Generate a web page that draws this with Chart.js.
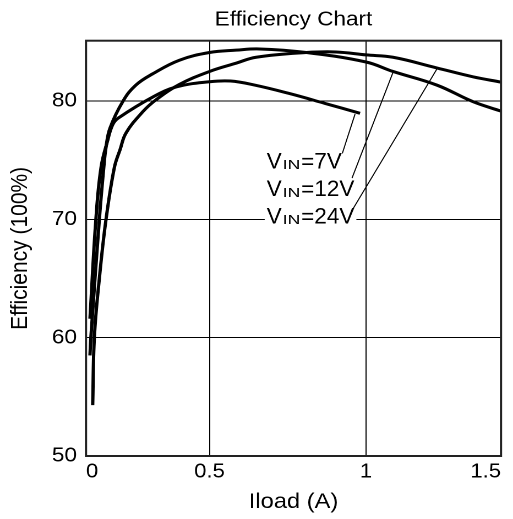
<!DOCTYPE html>
<html>
<head>
<meta charset="utf-8">
<title>Efficiency Chart</title>
<script src="https://cdn.jsdelivr.net/npm/chart.js@4.4.1/dist/chart.umd.min.js"></script>
<style>
  html, body { margin: 0; padding: 0; background: #fff; overflow: hidden; }
  /* the source picture is stretched sideways, so the chart is drawn narrower and widened */
  #wrap { width: 466px; height: 519px; transform: scaleX(1.10086); transform-origin: 0 0; }
</style>
</head>
<body>
<div id="wrap"><canvas id="graphic"></canvas></div>
<script>
  // load current (A) and efficiency (%)
  const iload7  = [0.016, 0.040, 0.061, 0.088, 0.108, 0.130, 0.272, 0.367, 0.500, 0.567, 0.644, 0.753, 0.869, 0.981];
  const eff7    = [61.6,  70.0,  74.4,  76.7,  78.0,  78.55, 80.36, 81.2,  81.63, 81.69, 81.35, 80.65, 79.8,  78.96];

  const iload12 = [0.016, 0.020, 0.054, 0.072, 0.081, 0.097, 0.150, 0.202, 0.270, 0.378, 0.500, 0.585, 0.660, 0.809, 1.000, 1.100, 1.262, 1.396, 1.500];
  const eff12   = [58.5,  60.1,  70.0,  74.4,  76.1,  77.7,  80.0,  81.35, 82.3,  83.45, 84.1,  84.3,  84.4,  84.1,  83.3,  82.5,  81.35, 79.95, 79.15];

  const iload24 = [0.027, 0.034, 0.054, 0.081, 0.115, 0.138, 0.162, 0.230, 0.283, 0.378, 0.500, 0.585, 0.649, 0.809, 0.904, 1.000, 1.100, 1.262, 1.396, 1.500];
  const eff24   = [54.3,  60.1,  65.0,  70.0,  74.4,  75.9,  77.3,  79.1,  80.1,  81.4,  82.5,  83.2,  83.7,  84.1,  84.15, 83.9,  83.7,  82.8,  82.05, 81.6];

  const vinLabels = ["7V", "12V", "24V"];
  const xTicks = [0, 0.5, 1, 1.5];
  const xTickLabels = ["0", "0.5", "1", "1.5"];
  const yTicks = [50, 60, 70, 80];
  const yTickLabels = ["50", "60", "70", "80"];

  const SX = 513 / 466;
  const FONT = '"Liberation Sans", Arial, Helvetica, sans-serif';

  // the printed x axis is not evenly spaced: where each tick sits along the axis (0..1)
  const xKnots = [0, 0.5, 1, 1.5];
  const xFrac  = [0, 0.29759, 0.6747, 1];

  function toDecimal(v) {
    let i = 0;
    while (i < xKnots.length - 2 && v > xKnots[i + 1]) i++;
    const t = (v - xKnots[i]) / (xKnots[i + 1] - xKnots[i]);
    return xFrac[i] + t * (xFrac[i + 1] - xFrac[i]);
  }
  function fromDecimal(d) {
    let i = 0;
    while (i < xFrac.length - 2 && d > xFrac[i + 1]) i++;
    const t = (d - xFrac[i]) / (xFrac[i + 1] - xFrac[i]);
    return xKnots[i] + t * (xKnots[i + 1] - xKnots[i]);
  }

  class PiecewiseScale extends Chart.LinearScale {
    getPixelForValue(value) {
      if (value === null || value === undefined || isNaN(value)) return NaN;
      return this.getPixelForDecimal(toDecimal(value));
    }
    getValueForPixel(pixel) {
      return fromDecimal(this.getDecimalForPixel(pixel));
    }
  }
  PiecewiseScale.id = "piecewise";
  PiecewiseScale.defaults = Chart.LinearScale.defaults;
  Chart.register(PiecewiseScale);

  // callouts, in data units
  const callouts = {
    textX: 0.6827,
    baselines: [74.31, 71.97, 69.66],
    from: [[0.9243, 75.58], [0.9553, 73.49], [0.954, 70.7]],
    to:   [[0.965, 78.9],  [1.101, 82.48], [1.264, 82.76]]
  };

  const framePlugin = {
    id: "frameAndCallouts",
    afterDatasetsDraw(chart) {
      const { ctx, chartArea: a } = chart;
      const x = chart.scales.x, y = chart.scales.y;
      ctx.save();
      ctx.strokeStyle = "#222";
      ctx.lineWidth = 2;
      ctx.strokeRect(a.left, a.top, a.right - a.left, a.bottom - a.top);

      vinLabels.forEach((lab, i) => {
        const runs = [
          { t: "V", size: 22.5, sx: 1, dy: 0 },
          { t: "IN", size: 12.5, sx: 1.4, dy: 0.8 },
          { t: "=" + lab, size: 22.5, sx: 1, dy: 0 }
        ];
        const gap = 1 / SX;
        const px = x.getPixelForValue(callouts.textX);
        const py = y.getPixelForValue(callouts.baselines[i]);
        const widths = runs.map(r => {
          ctx.font = r.size + "px " + FONT;
          return ctx.measureText(r.t).width * r.sx / SX;
        });
        const total = widths.reduce((s, w) => s + w, 0) + 2 * gap;
        ctx.fillStyle = "#fff";
        ctx.fillRect(px - 2 / SX, py - 19, total + 4 / SX, 24);
        ctx.fillStyle = "#000";
        ctx.textBaseline = "alphabetic";
        let cx = px;
        runs.forEach((r, k) => {
          ctx.save();
          ctx.translate(cx, py + r.dy);
          ctx.scale(r.sx / SX, 1);
          ctx.font = r.size + "px " + FONT;
          ctx.fillText(r.t, 0, 0);
          ctx.restore();
          cx += widths[k] + (k < 2 ? gap : 0);
        });
      });

      ctx.strokeStyle = "#000";
      ctx.lineWidth = 1;
      callouts.from.forEach((f, i) => {
        const t = callouts.to[i];
        ctx.beginPath();
        ctx.moveTo(x.getPixelForValue(f[0]), y.getPixelForValue(f[1]));
        ctx.lineTo(x.getPixelForValue(t[0]), y.getPixelForValue(t[1]));
        ctx.stroke();
      });
      ctx.restore();
    }
  };

  function points(xs, ys) {
    return xs.map((v, i) => ({ x: v, y: ys[i] }));
  }

  function curve(label, xs, ys) {
    return {
      label: label,
      data: points(xs, ys),
      borderColor: "#000",
      borderWidth: 3,
      pointRadius: 0,
      fill: false,
      tension: 0.4
    };
  }

  Chart.defaults.color = "#000";
  Chart.defaults.font.family = FONT;

  var ctx = document.getElementById("graphic").getContext("2d");
  var chart = new Chart(ctx, {
    type: "line",
    data: {
      datasets: [
        curve("VIN=7V", iload7, eff7),
        curve("VIN=12V", iload12, eff12),
        curve("VIN=24V", iload24, eff24)
      ]
    },
    options: {
      responsive: true,
      maintainAspectRatio: false,
      devicePixelRatio: 2,
      animation: false,
      layout: { padding: { left: 0, right: 466 - 501 / SX, top: 0, bottom: 0 } },
      plugins: {
        legend: { display: false },
        tooltip: { enabled: false },
        title: {
          display: true,
          text: "Efficiency Chart",
          fullSize: false,
          color: "#000",
          font: { size: 20.5, weight: "normal", family: FONT },
          padding: { top: 7.7, bottom: 8.4 }
        }
      },
      scales: {
        x: {
          type: "piecewise",
          min: 0,
          max: 1.5,
          afterBuildTicks: s => { s.ticks = xTicks.map(v => ({ value: v })); },
          afterFit: s => { s.height = 63; },
          grid: { color: "#000", lineWidth: 1, drawTicks: false },
          border: { display: false },
          ticks: {
            align: "inner",
            padding: 4,
            maxRotation: 0,
            autoSkip: false,
            font: { size: 20 },
            callback: (v, i) => xTickLabels[i]
          },
          title: {
            display: true,
            text: "Iload (A)",
            font: { size: 21.5 },
            padding: { top: 0, bottom: 3.9 }
          }
        },
        y: {
          min: 50,
          max: 85.1,
          afterBuildTicks: s => { s.ticks = yTicks.map(v => ({ value: v })); },
          afterFit: s => { s.width = 86 / SX; },
          grid: { color: "#000", lineWidth: 1, drawTicks: false },
          border: { display: false },
          ticks: {
            padding: 8.2,
            font: { size: 20.5 },
            callback: (v, i) => yTickLabels[i]
          },
          title: {
            display: true,
            text: "Efficiency (100%)",
            font: { size: 21 },
            padding: { top: 6, bottom: 0 }
          }
        }
      }
    },
    plugins: [framePlugin]
  });
</script>
</body>
</html>
